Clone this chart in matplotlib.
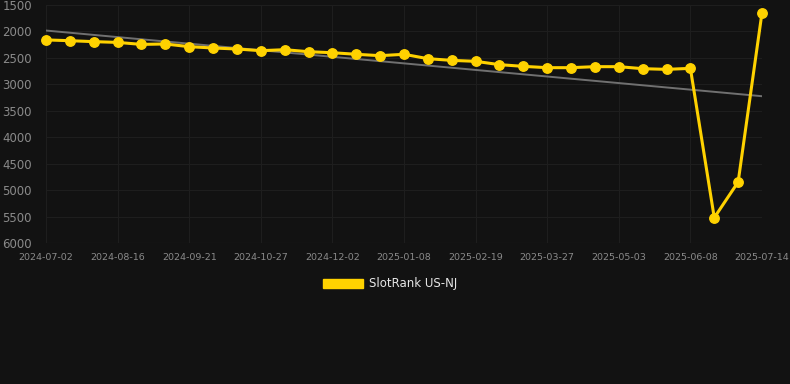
import numpy as np
import matplotlib
matplotlib.use("Agg")
import matplotlib.pyplot as plt
from matplotlib.patches import Patch

# rank values, one per category (lower = better, axis inverted)
ranks = [2160, 2175, 2193, 2207, 2245, 2237, 2288, 2313, 2332, 2364,
         2345, 2383, 2402, 2432, 2458, 2432, 2515, 2547, 2565, 2628,
         2660, 2685, 2685, 2666, 2666, 2704, 2717, 2698, 5521, 4847,
         1645]
tick_labels = ['2024-07-02', '2024-08-16', '2024-09-21', '2024-10-27',
               '2024-12-02', '2025-01-08', '2025-02-19', '2025-03-27',
               '2025-05-03', '2025-06-08', '2025-07-14']
series_name = 'SlotRank US-NJ'
y_ticks = [1500, 2000, 2500, 3000, 3500, 4000, 4500, 5000, 5500, 6000]

bg = '#121212'
yellow = '#FFD200'

x = np.arange(len(ranks))
# linear trend of the series
slope, intercept = np.polyfit(x, ranks, 1)
trend = slope * x + intercept

fig = plt.figure(figsize=(7.9, 3.84), dpi=100, facecolor=bg)
ax = fig.add_axes([46 / 790, 1 - 243 / 384, (762 - 46) / 790, (243 - 5) / 384])
ax.set_facecolor(bg)

ax.plot(x, trend, color='#707070', linewidth=1.4, zorder=2)
ax.plot(x, ranks, color=yellow, linewidth=2.2, marker='o', markersize=6.8,
        zorder=3, clip_on=False, label=series_name)

ax.set_xlim(0, len(ranks) - 1)
ax.set_ylim(6000, 1500)
ax.set_yticks(y_ticks)
ax.set_xticks(x[::3])
ax.set_xticklabels(tick_labels)

ax.grid(True, color='#1e1e1e', linewidth=0.8)
for s in ax.spines.values():
    s.set_visible(False)
ax.axhline(6000, color='#2a2a2a', linewidth=0.8, zorder=1)
ax.tick_params(axis='y', colors='#8a8a8a', labelsize=8.5, length=0, pad=10)
ax.tick_params(axis='x', colors='#8a8a8a', labelsize=6.8, length=0, pad=7)

# legend with a filled rectangle handle
handle = Patch(facecolor=yellow, edgecolor=yellow)
leg = fig.legend([handle], [series_name], loc='center', bbox_to_anchor=(390 / 790, 1 - 284 / 384),
                 frameon=False, handlelength=3.4, handleheight=0.9, fontsize=8.5,
                 labelcolor='#e6e6e6', handletextpad=0.5)

fig.savefig('out.png', dpi=100, facecolor=bg)
